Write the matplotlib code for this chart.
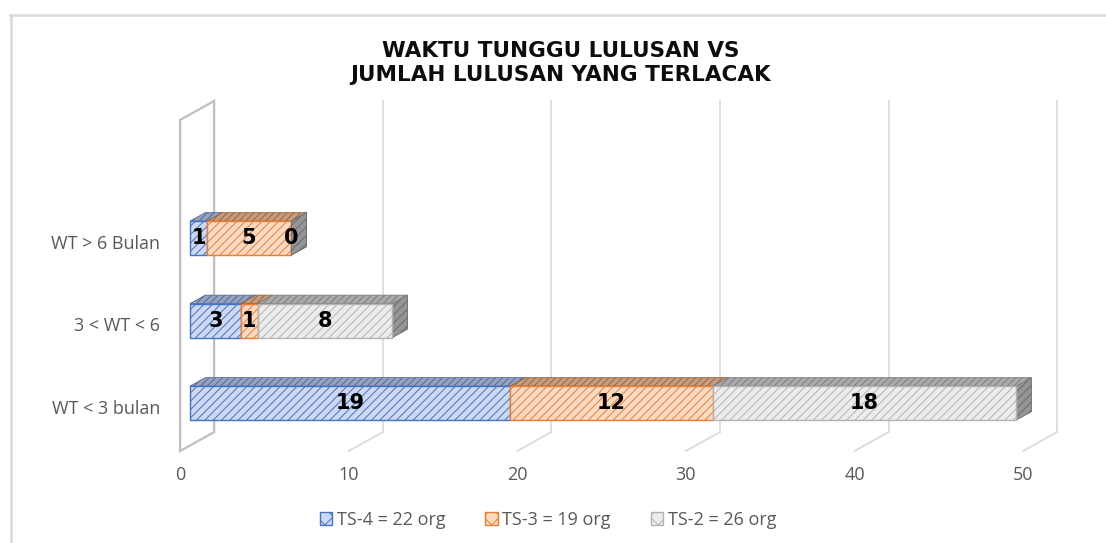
import matplotlib
matplotlib.use("Agg")
import matplotlib.pyplot as plt
from matplotlib.patches import Polygon, Patch
from matplotlib.lines import Line2D

# data
categories = ["WT < 3 bulan", "3 < WT < 6", "WT > 6 Bulan"]
series_names = ["TS-4 = 22 org", "TS-3 = 19 org", "TS-2 = 26 org"]
ts4 = [19, 3, 1]
ts3 = [12, 1, 5]
ts2 = [18, 8, 0]
x_ticks = [0, 10, 20, 30, 40, 50]
title = "WAKTU TUNGGU LULUSAN VS\nJUMLAH LULUSAN YANG TERLACAK"

# per-series look: front fill, line colour, top fill, top hatch, side fill, side hatch
styles = [
    dict(front="#cdd9f0", line="#4472C4", top="#95a3be", top_h="#52699a", side="#6f84ad", side_h="#4a5f8a"),
    dict(front="#fbdac4", line="#ED7D31", top="#c49c80", top_h="#9c6440", side="#b98461", side_h="#8d5633"),
    dict(front="#ececec", line="#b3b3b3", top="#aaaaaa", top_h="#7d7d7d", side="#959595", side_h="#6a6a6a"),
]

# fake 3d geometry (data units)
DX, DY = 2.02, 0.23          # full depth of the plot box
D0, D1 = 0.294, 0.74         # bar depth span
BAR_H = 0.412
FLOOR = -0.513
WALL_TOP = 3.50
GREY = "#595959"

plt.rcParams["hatch.linewidth"] = 0.7

fig = plt.figure(figsize=(11.06, 5.43), dpi=100)
ax = fig.add_axes([0, 0, 1, 1])
ax.set_xlim(-10.68, 54.92)
ax.set_ylim(-1.628, 4.954)
ax.axis("off")


def proj(v, y, d):
    return (v + d * DX, y + d * DY)


# outer chart border (top and left only are visible)
fig.add_artist(Line2D([10 / 1106, 1], [1 - 15 / 543] * 2, color="#d9d9d9", lw=1.8))
fig.add_artist(Line2D([11 / 1106] * 2, [0, 1 - 15 / 543], color="#d9d9d9", lw=1.8))

# left wall
ax.add_patch(Polygon([proj(0, FLOOR, 0), proj(0, WALL_TOP, 0),
                      proj(0, WALL_TOP, 1), proj(0, FLOOR, 1)],
                     closed=True, facecolor="white", edgecolor="#bfbfbf", lw=1.6, zorder=1))

# back gridlines + floor lines
for t in x_ticks[1:]:
    bx, by = proj(t, FLOOR, 1)
    tx, ty = proj(t, WALL_TOP, 1)
    ax.plot([bx, tx], [by, ty], color="#d9d9d9", lw=1.2, zorder=0.5)
for t in x_ticks:
    fx, fy = proj(t, FLOOR, 0)
    bx, by = proj(t, FLOOR, 1)
    ax.plot([fx, bx], [fy, by], color="#d9d9d9", lw=1.2, zorder=0.5)
    ax.text(t, -0.80, str(t), ha="center", va="center", fontsize=13,
            color=GREY, family="Open Sans")

# stacked 3d bars
series = [ts4, ts3, ts2]
for i, cat in enumerate(categories):
    left = 0
    yb, yt = i - BAR_H / 2, i + BAR_H / 2
    for s, vals in enumerate(series):
        st = styles[s]
        v0, v1 = left, left + vals[i]
        z = 2 + s * 0.1
        top = [proj(v0, yt, D0), proj(v1, yt, D0), proj(v1, yt, D1), proj(v0, yt, D1)]
        front = [proj(v0, yb, D0), proj(v1, yb, D0), proj(v1, yt, D0), proj(v0, yt, D0)]
        side = [proj(v1, yb, D0), proj(v1, yt, D0), proj(v1, yt, D1), proj(v1, yb, D1)]
        ax.add_patch(Polygon(side, closed=True, facecolor=st["side"], edgecolor=st["side_h"],
                             hatch="////", lw=0.6, zorder=z))
        if vals[i] > 0:
            ax.add_patch(Polygon(top, closed=True, facecolor=st["top"], edgecolor=st["top_h"],
                                 hatch="/////", lw=0.6, zorder=z + 0.01))
            ax.add_patch(Polygon(front, closed=True, facecolor=st["front"], edgecolor=st["line"],
                                 hatch="////", lw=1.0, zorder=z + 0.02))
        cx, cy = proj((v0 + v1) / 2, i, D0)
        ax.text(cx, cy, str(vals[i]), ha="center", va="center", fontsize=15,
                fontweight="bold", color="black", family="DejaVu Sans", zorder=5)
        left = v1
    ax.text(-1.19, i, cat, ha="right", va="center", fontsize=13, color=GREY,
            family="Open Sans")

ax.text(0.507, 1 - 63 / 543, title, transform=ax.transAxes, ha="center", va="center",
        fontsize=15.5, fontweight="bold", color="#0d0d0d", family="DejaVu Sans",
        linespacing=1.2)

handles = [Patch(facecolor=st["front"], edgecolor=st["line"], hatch="xx", lw=1.0)
           for st in styles]
ax.legend(handles, series_names, loc="center", bbox_to_anchor=(548 / 1106, 1 - 520 / 543),
          ncol=3, frameon=False, handlelength=0.7, handleheight=0.7, handletextpad=0.25,
          columnspacing=2.2, prop={"family": "Open Sans", "size": 13}, labelcolor=GREY)

fig.savefig("out.png", dpi=100)
